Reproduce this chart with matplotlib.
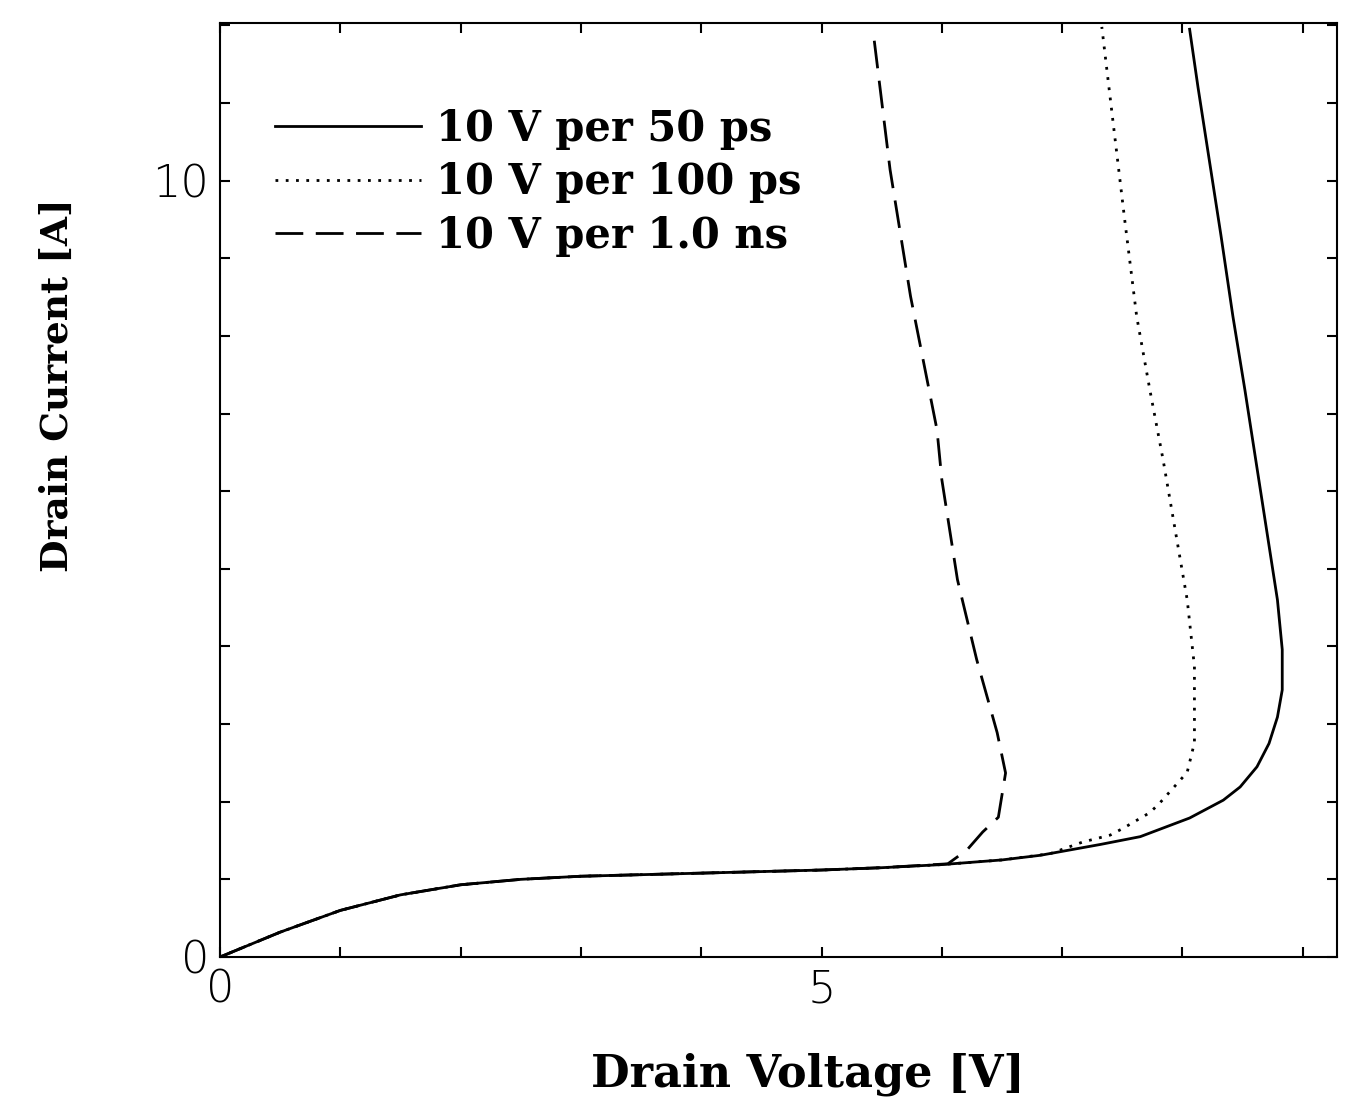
import matplotlib
matplotlib.use("Agg")
import matplotlib.pyplot as plt

# drain voltage [V] / drain current [A]
v_50ps = [0.0, 0.5, 1.0, 1.5, 2.0, 2.5, 3.0, 3.5, 4.0, 4.5, 5.0, 5.5, 6.0, 6.5, 6.82,
          7.32, 7.65, 8.06, 8.34, 8.48, 8.62, 8.72, 8.79, 8.83, 8.83, 8.79,
          8.70, 8.61, 8.52, 8.42, 8.32, 8.22, 8.13, 8.06]
i_50ps = [0.0, 0.32, 0.6, 0.8, 0.93, 1.0, 1.04, 1.06, 1.08, 1.1, 1.12, 1.15, 1.19, 1.25, 1.31,
          1.45, 1.55, 1.79, 2.02, 2.19, 2.45, 2.75, 3.09, 3.44, 3.96, 4.6,
          5.5, 6.4, 7.3, 8.25, 9.3, 10.3, 11.2, 11.95]

v_100ps = [0.0, 0.5, 1.0, 1.5, 2.0, 2.5, 3.0, 3.5, 4.0, 4.5, 5.0, 5.5, 6.0, 6.5, 6.9,
           7.17, 7.40, 7.51, 7.73, 7.81, 7.96, 8.04, 8.10, 8.10, 8.04,
           7.94, 7.84, 7.73, 7.62, 7.52, 7.42, 7.33]
i_100ps = [0.0, 0.32, 0.6, 0.8, 0.93, 1.0, 1.04, 1.06, 1.08, 1.1, 1.12, 1.15, 1.19, 1.25, 1.33,
           1.48, 1.57, 1.66, 1.86, 1.98, 2.24, 2.38, 2.76, 3.74, 4.6,
           5.5, 6.4, 7.3, 8.25, 9.5, 10.8, 11.98]

v_1ns = [0.0, 0.5, 1.0, 1.5, 2.0, 2.5, 3.0, 3.5, 4.0, 4.5, 5.0, 5.5, 6.05,
         6.21, 6.34, 6.47, 6.53, 6.46, 6.29, 6.13, 6.0,
         5.96, 5.74, 5.57, 5.43]
i_1ns = [0.0, 0.32, 0.6, 0.8, 0.93, 1.0, 1.04, 1.06, 1.08, 1.1, 1.12, 1.15, 1.2,
         1.38, 1.61, 1.80, 2.37, 2.89, 3.83, 4.86, 6.15,
         6.79, 8.51, 10.14, 11.91]

labels = ["10 V per 50 ps", "10 V per 100 ps", "10 V per 1.0 ns"]
xticks = list(range(0, 10))
yticks = list(range(0, 13))
xtick_labels = {0: "0", 5: "5"}
ytick_labels = {0: "0", 10: "10"}

fig = plt.figure(figsize=(13.55, 11.02), dpi=100)
ax = fig.add_axes([0.1624, 0.1316, 0.8243, 0.8475])

lw = 2.0
ax.plot(v_50ps, i_50ps, color="black", lw=lw, ls="-", label=labels[0])
ax.plot(v_100ps, i_100ps, color="black", lw=lw, ls=(0, (1, 2.7)), label=labels[1])
ax.plot(v_1ns, i_1ns, color="black", lw=lw, ls=(0, (10, 4.5)), label=labels[2])

ax.set_xlim(0, 9.285)
ax.set_ylim(0, 12.03)
ax.set_xticks(xticks)
ax.set_yticks(yticks)
ax.set_xticklabels([xtick_labels.get(t, "") for t in xticks])
ax.set_yticklabels([ytick_labels.get(t, "") for t in yticks])
ax.tick_params(direction="in", length=7, width=1.5, top=True, right=True,
               labelsize=32, pad=8)
for lab in ax.get_xticklabels() + ax.get_yticklabels():
    lab.set_fontweight("light")
for sp in ax.spines.values():
    sp.set_linewidth(1.5)

ax.set_xlabel("Drain Voltage [V]", fontsize=32, fontweight="bold", family="DejaVu Serif",
              va="center")
ax.set_ylabel("Drain Current [A]", fontsize=27, fontweight="bold", family="DejaVu Serif",
              va="center")
ax.xaxis.set_label_coords(0.526, -0.126)
ax.yaxis.set_label_coords(-0.146, 0.612)

ax.legend(loc="upper left", bbox_to_anchor=(0.049, 0.909), frameon=False,
          prop={"family": "DejaVu Serif", "weight": "bold", "size": 30},
          handlelength=3.5, handletextpad=0.36, labelspacing=0.27,
          borderpad=0, borderaxespad=0)

fig.savefig("out.png", dpi=100)
